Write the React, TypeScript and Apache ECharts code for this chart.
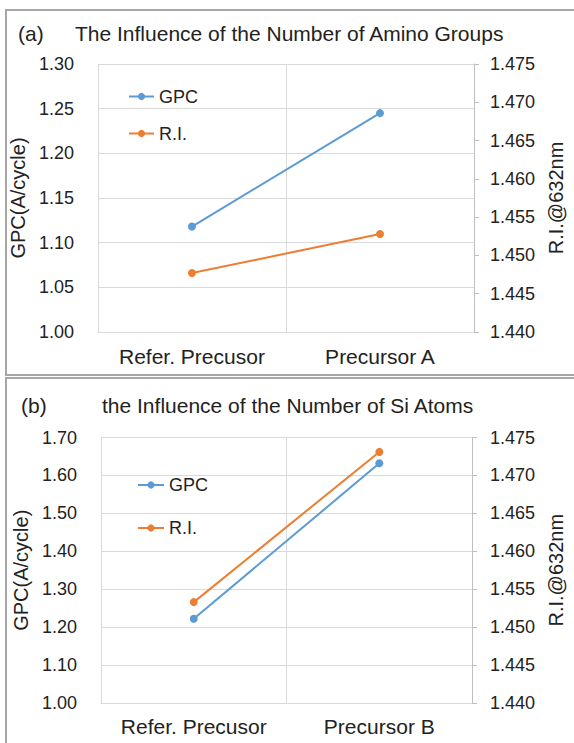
import React, { useEffect, useRef } from "react";
import * as echarts from "echarts";

const categoriesA = ["Refer. Precusor", "Precursor A"];
const gpcA = [1.118, 1.245];
const riA = [1.4477, 1.4528];

const categoriesB = ["Refer. Precusor", "Precursor B"];
const gpcB = [1.222, 1.632];
const riB = [1.4533, 1.4731];

const titleA = "The Influence of the Number of Amino Groups";
const titleB = "the Influence of the Number of Si Atoms";

const FONT = "'Liberation Sans', Arial, sans-serif";
const TEXT = "#222";
const GRID = "#d9d9d9";
const AXIS = "#bfbfbf";
const BLUE = "#5B9BD5";
const ORANGE = "#ED7D31";

export default function App() {
  const ref = useRef<HTMLDivElement>(null);
  useEffect(() => {
    if (!ref.current) return;
    const chart = echarts.init(ref.current, undefined, { renderer: "svg" });

    const leftAxis = (gi: number, min: number, max: number, interval: number, digits: number, gap: number) => ({
      type: "value",
      gridIndex: gi,
      position: "left",
      min,
      max,
      interval,
      name: "GPC(A/cycle)",
      nameLocation: "middle",
      nameGap: gap,
      nameTextStyle: { fontFamily: FONT, fontSize: 20, color: TEXT },
      axisLine: { show: false },
      axisTick: { show: false },
      splitLine: { show: true, lineStyle: { color: GRID, width: 1 } },
      axisLabel: {
        margin: 24,
        fontFamily: FONT,
        fontSize: 18,
        color: TEXT,
        formatter: (v: number) => v.toFixed(digits),
      },
    });
    const rightAxis = (gi: number, gap: number, margin: number) => ({
      type: "value",
      gridIndex: gi,
      position: "right",
      min: 1.44,
      max: 1.475,
      interval: 0.005,
      name: "R.I.@632nm",
      nameLocation: "middle",
      nameGap: gap,
      nameTextStyle: { fontFamily: FONT, fontSize: 20, color: TEXT },
      axisLine: { show: true, lineStyle: { color: AXIS, width: 1 } },
      axisTick: { show: true, length: 5, lineStyle: { color: AXIS } },
      splitLine: { show: false },
      axisLabel: {
        margin: margin,
        fontFamily: FONT,
        fontSize: 18,
        color: TEXT,
        formatter: (v: number) => v.toFixed(3),
      },
    });
    const xAxis = (gi: number, data: string[], margin: number) => ({
      type: "category",
      gridIndex: gi,
      data,
      boundaryGap: true,
      axisLine: { show: true, lineStyle: { color: GRID } },
      axisTick: { show: false },
      splitLine: { show: true, lineStyle: { color: GRID, width: 1 } },
      axisLabel: { margin, fontFamily: FONT, fontSize: 21, color: TEXT, interval: 0 },
    });
    const lineSeries = (name: string, color: string, xi: number, yi: number, data: number[]) => ({
      name,
      type: "line",
      xAxisIndex: xi,
      yAxisIndex: yi,
      data,
      symbol: "circle",
      symbolSize: 8,
      lineStyle: { color, width: 2 },
      itemStyle: { color },
      z: 3,
    });
    const legend = (left: number, top: number, gap: number, width: number) => ({
      orient: "vertical",
      left,
      top,
      padding: 0,
      itemGap: gap,
      itemWidth: width,
      itemHeight: 9,
      data: ["GPC", "R.I."],
      textStyle: { fontFamily: FONT, fontSize: 18, color: TEXT },
    });

    chart.setOption({
      animation: false,
      backgroundColor: "#fff",
      grid: [
        { left: 97, top: 64, width: 381, height: 268 },
        { left: 101, top: 437.5, width: 380, height: 265.5 },
      ],
      xAxis: [xAxis(0, categoriesA, 14), xAxis(1, categoriesB, 13)],
      yAxis: [
        leftAxis(0, 1.0, 1.3, 0.05, 2, 63),
        rightAxis(0, 72, 16),
        leftAxis(1, 1.0, 1.7, 0.1, 2, 67),
        rightAxis(1, 70, 18),
      ],
      legend: [legend(128, 87.5, 19, 25), legend(137, 476, 25, 26)],
      series: [
        lineSeries("GPC", BLUE, 0, 0, gpcA),
        lineSeries("R.I.", ORANGE, 0, 1, riA),
        lineSeries("GPC", BLUE, 1, 2, gpcB),
        lineSeries("R.I.", ORANGE, 1, 3, riB),
      ],
      graphic: [
        {
          type: "rect",
          shape: { x: 6, y: 10, width: 600, height: 365 },
          style: { fill: "none", stroke: "#a6a6a6", lineWidth: 2 },
          silent: true,
        },
        {
          type: "rect",
          shape: { x: 6, y: 378, width: 600, height: 400 },
          style: { fill: "none", stroke: "#a6a6a6", lineWidth: 2 },
          silent: true,
        },
        {
          type: "text",
          x: 18,
          y: 33,
          style: { text: "(a)", font: `21px ${FONT}`, fill: TEXT, verticalAlign: "middle" },
        },
        {
          type: "text",
          x: 75,
          y: 33,
          style: { text: titleA, font: `21px ${FONT}`, fill: TEXT, verticalAlign: "middle" },
        },
        {
          type: "text",
          x: 21,
          y: 405,
          style: { text: "(b)", font: `21px ${FONT}`, fill: TEXT, verticalAlign: "middle" },
        },
        {
          type: "text",
          x: 102,
          y: 405,
          style: { text: titleB, font: `21px ${FONT}`, fill: TEXT, verticalAlign: "middle" },
        },
      ],
    });
    return () => chart.dispose();
  }, []);
  return (
    <div
      ref={ref}
      style={{ position: "absolute", left: 0, top: 0, width: 574, height: 743, background: "#fff" }}
    />
  );
}
